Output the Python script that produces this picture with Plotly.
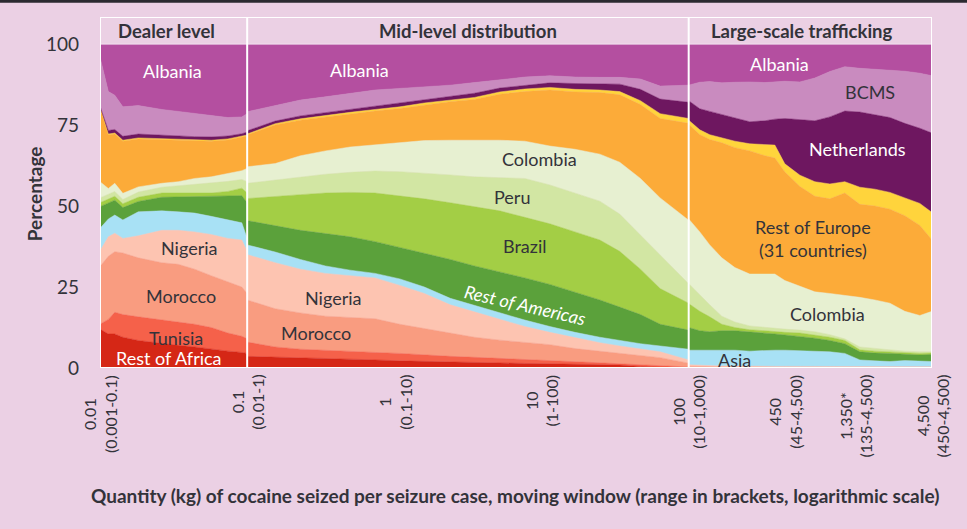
import math
import plotly.graph_objects as go

# ---------------- data ----------------
# x: centre of the moving window (kg), one list per panel
dealer_kg = [0.010, 0.0114, 0.0126, 0.0143, 0.0182, 0.0263, 0.034, 0.044, 0.057, 0.074, 0.092, 0.1]
mid_kg = [0.1, 0.155, 0.23, 0.34, 0.5, 0.74, 1.09, 1.6, 2.4, 3.5, 5.2, 7.7, 11.4, 16.9, 24.9, 34, 47, 64, 100]
large_kg = [100, 119, 139, 168, 206, 260, 330, 385, 450, 570, 720, 910, 1150, 1455, 1840, 2330, 2940, 3720, 4500]

# cumulative share (%) at the top of each layer
dealer_rest_of_africa = [12.0, 10.5, 10.5, 9.5, 8.5, 7.5, 7.0, 6.5, 5.8, 5.2, 4.8, 4.5]
dealer_tunisia = [13.5, 15.0, 17.2, 16.5, 15.8, 14.8, 14.3, 13.5, 12.5, 10.8, 9.8, 9.0]
dealer_morocco = [31.3, 34.5, 35.9, 35.5, 34.0, 32.5, 32.0, 30.5, 28.5, 26.5, 25.0, 23.0]
dealer_nigeria = [36.2, 40.5, 41.6, 40.0, 40.8, 42.5, 42.5, 42.0, 41.2, 40.0, 39.5, 36.0]
dealer_asia = [43.1, 46.0, 47.2, 45.7, 48.2, 48.5, 48.2, 47.8, 46.8, 45.8, 44.8, 40.0]
dealer_rest_of_americas = [49.8, 51.0, 51.8, 49.5, 51.4, 52.7, 52.8, 52.8, 52.8, 53.0, 53.2, 51.0]
dealer_brazil = [51.0, 52.2, 53.0, 50.7, 52.7, 54.0, 54.0, 54.0, 54.0, 54.5, 55.5, 54.0]
dealer_peru = [52.5, 53.5, 54.5, 52.0, 54.3, 55.8, 56.2, 56.6, 57.0, 57.6, 58.2, 57.5]
dealer_colombia = [57.5, 55.4, 57.0, 53.9, 55.9, 57.0, 57.5, 58.5, 59.0, 60.0, 60.9, 61.6]
dealer_rest_of_europe = [80.3, 71.9, 72.2, 70.0, 70.7, 70.5, 70.4, 70.1, 70.0, 70.4, 71.1, 71.6]
dealer_yellow = [80.5, 72.2, 72.5, 70.3, 71.0, 70.8, 70.7, 70.4, 70.3, 70.7, 71.4, 71.9]
dealer_netherlands = [80.8, 73.3, 73.6, 71.5, 72.2, 71.8, 71.7, 71.4, 71.3, 71.6, 72.3, 72.8]
dealer_bcms = [96.0, 85.3, 84.2, 80.6, 81.0, 79.8, 79.2, 78.5, 77.8, 77.3, 77.5, 78.5]
dealer_albania = [100, 100, 100, 100, 100, 100, 100, 100, 100, 100, 100, 100]

mid_rest_of_africa = [3.6, 3.4, 3.2, 3.0, 2.8, 2.5, 2.2, 2.0, 1.8, 1.6, 1.5, 1.4, 1.3, 1.2, 1.1, 0.9, 0.5, 0.2, 0.1]
mid_tunisia = [8.0, 6.5, 5.8, 5.4, 5.0, 4.8, 4.5, 4.0, 3.6, 3.3, 3.0, 2.7, 2.4, 2.0, 1.6, 1.3, 1.0, 0.6, 0.3]
mid_morocco = [21.0, 18.3, 17.0, 16.0, 15.6, 15.2, 13.5, 12.2, 10.8, 9.5, 8.6, 8.0, 7.2, 6.0, 5.2, 4.6, 4.0, 3.2, 1.5]
mid_nigeria = [35.0, 32.5, 30.5, 29.2, 28.5, 27.8, 25.5, 23.0, 19.5, 17.3, 15.0, 12.8, 11.0, 9.3, 7.8, 6.8, 5.8, 5.0, 2.5]
mid_asia = [38.0, 35.8, 33.5, 31.5, 30.2, 29.2, 27.5, 25.0, 21.5, 19.3, 17.0, 14.8, 12.8, 11.0, 9.5, 8.5, 7.5, 6.8, 5.8]
mid_rest_of_americas = [45.5, 44.0, 42.5, 41.5, 40.5, 39.0, 37.2, 35.5, 33.5, 31.5, 29.7, 27.8, 25.8, 23.5, 21.0, 18.8, 16.5, 13.5, 11.7]
mid_brazil = [52.3, 53.0, 53.5, 54.0, 54.2, 54.0, 53.2, 52.2, 51.0, 49.8, 48.5, 46.5, 44.5, 42.0, 39.5, 36.0, 30.5, 24.5, 20.0]
mid_peru = [57.0, 58.0, 59.0, 59.8, 60.4, 60.8, 60.6, 60.2, 59.6, 59.0, 58.8, 58.5, 56.5, 54.0, 51.5, 47.5, 41.0, 35.0, 26.0]
mid_colombia = [62.1, 63.1, 65.5, 67.0, 68.2, 68.8, 69.5, 70.2, 70.3, 70.3, 70.3, 70.0, 68.5, 67.5, 66.0, 63.5, 58.5, 52.5, 45.6]
mid_rest_of_europe = [71.9, 75.0, 76.5, 77.5, 78.4, 79.3, 80.1, 81.2, 82.2, 82.9, 84.5, 85.3, 85.8, 85.2, 85.0, 84.3, 81.3, 77.0, 75.5]
mid_yellow = [72.2, 75.4, 76.9, 78.0, 78.9, 79.8, 80.6, 81.8, 82.8, 83.5, 85.2, 86.1, 86.6, 86.0, 85.8, 85.3, 82.5, 78.5, 77.0]
mid_netherlands = [73.2, 76.2, 77.8, 78.8, 79.8, 80.7, 81.6, 82.7, 83.8, 84.8, 86.4, 87.3, 88.0, 87.8, 87.8, 87.6, 86.0, 83.0, 82.0]
mid_bcms = [79.1, 81.1, 82.7, 83.7, 84.8, 85.8, 86.3, 86.8, 87.3, 88.1, 89.0, 89.8, 90.2, 89.8, 89.7, 89.7, 89.2, 87.0, 87.3]
mid_albania = [100, 100, 100, 100, 100, 100, 100, 100, 100, 100, 100, 100, 100, 100, 100, 100, 100, 100, 100]

large_rest_of_africa = [0.1, 0.1, 0.1, 0.1, 0.1, 0.1, 0.1, 0.1, 0.1, 0.1, 0.1, 0.1, 0.1, 0.1, 0.1, 0.1, 0.1, 0.1, 0.1]
large_tunisia = [0.2, 0.2, 0.2, 0.2, 0.2, 0.2, 0.2, 0.2, 0.2, 0.2, 0.2, 0.2, 0.2, 0.2, 0.2, 0.2, 0.2, 0.2, 0.2]
large_morocco = [0.5, 0.4, 0.4, 0.3, 0.3, 0.3, 0.3, 0.3, 0.3, 0.3, 0.3, 0.3, 0.3, 0.3, 0.3, 0.3, 0.3, 0.3, 0.3]
large_nigeria = [1.0, 0.8, 0.7, 0.6, 0.6, 0.5, 0.5, 0.5, 0.5, 0.5, 0.5, 0.5, 0.4, 0.4, 0.4, 0.4, 0.4, 0.4, 0.4]
large_asia = [5.5, 5.5, 5.5, 5.5, 5.5, 5.2, 5.5, 5.5, 5.5, 5.3, 5.0, 5.0, 4.5, 2.5, 2.2, 2.0, 2.3, 2.2, 2.0]
large_rest_of_americas = [12.5, 11.5, 11.2, 11.5, 11.5, 11.2, 10.8, 10.5, 10.2, 9.8, 9.2, 8.5, 7.5, 5.0, 4.6, 4.5, 4.3, 4.0, 4.2]
large_brazil = [19.9, 17.5, 15.8, 13.5, 12.5, 11.8, 11.5, 11.2, 11.0, 10.8, 10.2, 9.5, 8.5, 5.6, 5.2, 5.0, 4.8, 4.5, 4.6]
large_peru = [26.1, 22.5, 19.5, 16.0, 14.2, 13.0, 12.5, 12.2, 12.0, 11.7, 11.2, 10.3, 9.0, 6.5, 6.0, 5.6, 5.2, 5.0, 5.0]
large_colombia = [46.0, 42.0, 38.0, 34.0, 31.0, 29.0, 29.0, 29.0, 27.0, 25.3, 23.5, 23.0, 22.5, 21.8, 21.0, 20.0, 17.5, 16.2, 17.5]
large_rest_of_europe = [75.2, 72.0, 70.5, 69.5, 68.0, 67.0, 65.5, 64.8, 60.5, 56.0, 53.0, 52.2, 54.0, 50.5, 50.0, 49.0, 47.0, 44.0, 39.5]
large_yellow = [76.5, 73.5, 72.0, 71.0, 70.0, 69.2, 69.0, 68.8, 63.0, 59.5, 57.5, 56.8, 57.5, 55.8, 55.2, 54.2, 52.5, 50.8, 48.0]
large_netherlands = [82.5, 80.0, 79.2, 78.2, 77.0, 76.0, 76.3, 76.8, 77.0, 76.6, 76.3, 77.5, 79.3, 79.0, 78.2, 77.3, 75.5, 74.0, 72.5]
large_bcms = [87.3, 88.2, 88.4, 88.0, 88.2, 88.3, 88.1, 88.2, 88.5, 88.3, 89.5, 91.5, 93.0, 92.5, 92.2, 91.9, 91.6, 91.0, 90.2]
large_albania = [100, 100, 100, 100, 100, 100, 100, 100, 100, 100, 100, 100, 100, 100, 100, 100, 100, 100, 100]

panel_titles = ["Dealer level", "Mid-level distribution", "Large-scale trafficking"]
panel_edges_kg = [0.01, 0.1, 100, 4500]
tick_kg = [0.01, 0.1, 1, 10, 100, 450, 1350, 4500]
tick_text = ["0.01<br>(0.001-0.1)", "0.1<br>(0.01-1)", "1<br>(0.1-10)", "10<br>(1-100)",
             "100<br>(10-1,000)", "450<br>(45-4,500)", "1,350*<br>(135-4,500)", "4,500<br>(450-4,500)"]
y_ticks = [0, 25, 50, 75, 100]

# (name, colour, dealer, mid, large) bottom -> top
layers = [
    ("Rest of Africa", "#D52716", dealer_rest_of_africa, mid_rest_of_africa, large_rest_of_africa),
    ("Tunisia", "#F5614A", dealer_tunisia, mid_tunisia, large_tunisia),
    ("Morocco", "#F99C80", dealer_morocco, mid_morocco, large_morocco),
    ("Nigeria", "#FDC4B1", dealer_nigeria, mid_nigeria, large_nigeria),
    ("Asia", "#A8E1F5", dealer_asia, mid_asia, large_asia),
    ("Rest of Americas", "#5BA13B", dealer_rest_of_americas, mid_rest_of_americas, large_rest_of_americas),
    ("Brazil", "#A3CE45", dealer_brazil, mid_brazil, large_brazil),
    ("Peru", "#D2E6A3", dealer_peru, mid_peru, large_peru),
    ("Colombia", "#E7F0D1", dealer_colombia, mid_colombia, large_colombia),
    ("Rest of Europe (31 countries)", "#FCAB39", dealer_rest_of_europe, mid_rest_of_europe, large_rest_of_europe),
    ("Other (yellow)", "#FFD43C", dealer_yellow, mid_yellow, large_yellow),
    ("Netherlands", "#6E1760", dealer_netherlands, mid_netherlands, large_netherlands),
    ("BCMS", "#C98BBF", dealer_bcms, mid_bcms, large_bcms),
    ("Albania", "#B44FA0", dealer_albania, mid_albania, large_albania),
]

# ---------------- figure ----------------
BG = "#EBD0E4"
TXT = "#33333A"
FONT = "Lato, 'Open Sans', sans-serif"

fig = go.Figure()
for p, kg in enumerate([dealer_kg, mid_kg, large_kg]):
    for i, layer in enumerate(layers):
        fig.add_trace(go.Scatter(
            x=kg, y=layer[2 + p], mode="lines", name=layer[0],
            line=dict(width=0.5, color=layer[1]),
            fill="tozeroy" if i == 0 else "tonexty", fillcolor=layer[1],
            hoverinfo="skip", showlegend=False))

lx = math.log10
x_lo, x_hi = lx(0.01), lx(4500)
y_top = 108.33

shapes = []
# panel frames (white) - shapes take raw values on the log axis
for xv in panel_edges_kg:
    shapes.append(dict(type="line", xref="x", yref="y", x0=xv, x1=xv, y0=0, y1=y_top,
                       line=dict(color="white", width=2)))
for yv, w in [(0, 2), (100, 1.2), (y_top, 2)]:
    shapes.append(dict(type="line", xref="x", yref="y", x0=panel_edges_kg[0], x1=panel_edges_kg[-1],
                       y0=yv, y1=yv, line=dict(color="white", width=w)))
# thin dark frame strip at the very top of the picture
shapes.append(dict(type="rect", xref="paper", yref="paper", x0=-0.125, x1=1.05, y0=1.0405, y1=1.06,
                   fillcolor="#2B2A30", line=dict(width=0), layer="above"))

ann = []
# panel headers
for title, xc in zip(panel_titles, [-1.545, 0.5, 2.77]):
    ann.append(dict(x=xc, y=104.0, xref="x", yref="y", text="<b>%s</b>" % title, showarrow=False,
                    font=dict(size=18.5, color=TXT, family=FONT)))

# area labels: (text, log10 x, y %, colour, angle)
area_labels = [
    ("Albania", -1.507, 91.8, "white", 0),
    ("Albania", -0.234, 92.1, "white", 0),
    ("Albania", 2.616, 93.7, "white", 0),
    ("BCMS", 3.231, 85.3, TXT, 0),
    ("Netherlands", 3.146, 67.7, "white", 0),
    ("Rest of Europe<br>(31 countries)", 2.844, 40.0, TXT, 0),
    ("Colombia", 0.989, 64.5, TXT, 0),
    ("Peru", 0.796, 52.8, TXT, 0),
    ("Brazil", 0.887, 37.7, TXT, 0),
    ("<i>Rest of Americas</i>", 0.891, 19.3, "white", 13),
    ("Colombia", 2.946, 16.8, TXT, 0),
    ("Asia", 2.314, 2.6, TXT, 0),
    ("Nigeria", -1.395, 37.0, TXT, 0),
    ("Morocco", -1.450, 22.2, TXT, 0),
    ("Tunisia", -1.484, 9.3, TXT, 0),
    ("Rest of Africa", -1.531, 3.1, "white", 0),
    ("Nigeria", -0.414, 21.6, TXT, 0),
    ("Morocco", -0.529, 10.8, TXT, 0),
]
for t, xv, yv, col, ang in area_labels:
    ann.append(dict(x=xv, y=yv, xref="x", yref="y", text=t, showarrow=False, textangle=ang,
                    font=dict(size=18, color=col, family=FONT)))

# x tick labels (rotated, two lines, centred)
for v, t in zip(tick_kg, tick_text):
    ann.append(dict(x=lx(v), y=0, xref="x", yref="paper", yshift=-5, yanchor="top", xanchor="center",
                    text=t, showarrow=False, textangle=-90, align="center",
                    font=dict(size=16, color=TXT, family=FONT)))

# axis titles
ann.append(dict(x=-0.0785, y=0.497, xref="paper", yref="paper", xanchor="center", yanchor="middle",
                text="<b>Percentage</b>", showarrow=False,
                textangle=-90, font=dict(size=19, color=TXT, family=FONT)))
ann.append(dict(x=0.4985, y=-0.362, xref="paper", yref="paper", xanchor="center", yanchor="middle",
                text="<b>Quantity (kg) of cocaine seized per seizure case, moving window (range in brackets, logarithmic scale)</b>",
                showarrow=False, font=dict(size=19, color=TXT, family=FONT)))

fig.update_layout(
    width=967, height=529,
    margin=dict(l=100, r=35, t=17, b=161),
    paper_bgcolor=BG, plot_bgcolor=BG,
    font=dict(family=FONT, color=TXT),
    xaxis=dict(type="log", range=[x_lo, x_hi], showgrid=False, zeroline=False,
               showticklabels=False, ticks="", showline=False),
    yaxis=dict(range=[0, y_top], tickvals=y_ticks, showgrid=False, zeroline=False, ticks="",
               ticklabelstandoff=20, tickfont=dict(size=19, color=TXT, family=FONT), showline=False),
    shapes=shapes, annotations=ann,
)

fig.write_html("out.html", config={"displayModeBar": False},
               post_script="document.body.style.margin='0';document.body.style.overflow='hidden';")
